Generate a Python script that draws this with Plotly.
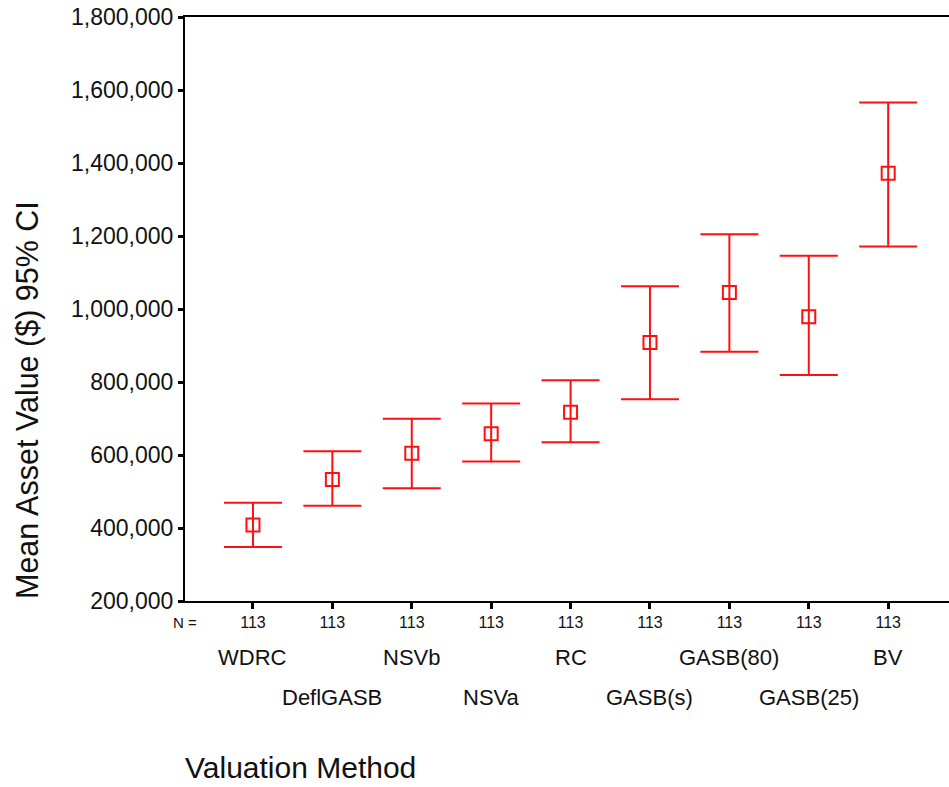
import plotly.graph_objects as go

methods = ["WDRC", "DeflGASB", "NSVb", "NSVa", "RC", "GASB(s)", "GASB(80)", "GASB(25)", "BV"]
n_values = [113, 113, 113, 113, 113, 113, 113, 113, 113]
means = [408000, 533000, 605000, 658000, 717000, 908000, 1045000, 979000, 1372000]
ci_lower = [348000, 461000, 509000, 582000, 635000, 753000, 883000, 819000, 1171000]
ci_upper = [469000, 610000, 699000, 741000, 805000, 1062000, 1205000, 1146000, 1566000]
y_ticks = [200000, 400000, 600000, 800000, 1000000, 1200000, 1400000, 1600000, 1800000]

FONT = "Liberation Sans, Arial, sans-serif"
RED = "#ff1010"

xpos = list(range(len(methods)))
err_plus = [u - m for u, m in zip(ci_upper, means)]
err_minus = [m - l for m, l in zip(means, ci_lower)]

fig = go.Figure()
fig.add_trace(go.Scatter(
    x=xpos, y=means, mode="markers",
    marker=dict(symbol="square-open", size=13, color=RED, line=dict(width=2, color=RED)),
    error_y=dict(type="data", symmetric=False, array=err_plus, arrayminus=err_minus,
                 color=RED, thickness=2, width=29),
    showlegend=False, hoverinfo="skip",
))

H = 787
T, B = 17, 186
L = 185
pw = 949 - L
ph = H - T - B


def py(pix):
    return (H - B - pix) / ph


def px(pix):
    return (pix - L) / pw


annotations = []
for i, name in enumerate(methods):
    annotations.append(dict(
        x=i, xref="x", y=py(658 if i % 2 == 0 else 697), yref="paper",
        text=name, showarrow=False, font=dict(family=FONT, size=22, color="#111"),
        xanchor="center", yanchor="middle",
    ))

annotations.append(dict(x=0, xref="paper", xanchor="center", y=py(622), yref="paper",
                        yanchor="middle", text="N =", showarrow=False,
                        font=dict(family=FONT, size=15, color="#111")))
annotations.append(dict(x=px(27), xref="paper", y=py(400), yref="paper",
                        text="Mean Asset Value ($) 95% CI",
                        textangle=-90, showarrow=False, xanchor="center", yanchor="middle",
                        font=dict(family=FONT, size=30.5, color="#111")))
annotations.append(dict(x=px(183), xref="paper", y=py(767), yref="paper", text="Valuation Method",
                        showarrow=False, xanchor="left", yanchor="middle",
                        font=dict(family=FONT, size=30, color="#111")))

fig.update_layout(
    width=949, height=787,
    margin=dict(l=L, r=0, t=T, b=B, pad=0),
    paper_bgcolor="white", plot_bgcolor="white",
    annotations=annotations,
    xaxis=dict(
        range=[-0.856, 8.766], tickmode="array", tickvals=xpos,
        ticktext=[str(n) for n in n_values],
        ticks="outside", ticklen=6, tickwidth=3, tickcolor="black",
        tickfont=dict(family=FONT, size=16, color="#111"),
        showline=True, linecolor="black", linewidth=2, mirror=True,
        showgrid=False, zeroline=False,
    ),
    yaxis=dict(
        range=[200000, 1800000], tickmode="array", tickvals=y_ticks,
        ticktext=[f"{v:,}" for v in y_ticks],
        ticks="outside", ticklen=5, tickwidth=3, tickcolor="black",
        tickfont=dict(family=FONT, size=23, color="#111"),
        showline=True, linecolor="black", linewidth=2,
        showgrid=False, zeroline=False,
    ),
)

fig.write_html("out.html")
